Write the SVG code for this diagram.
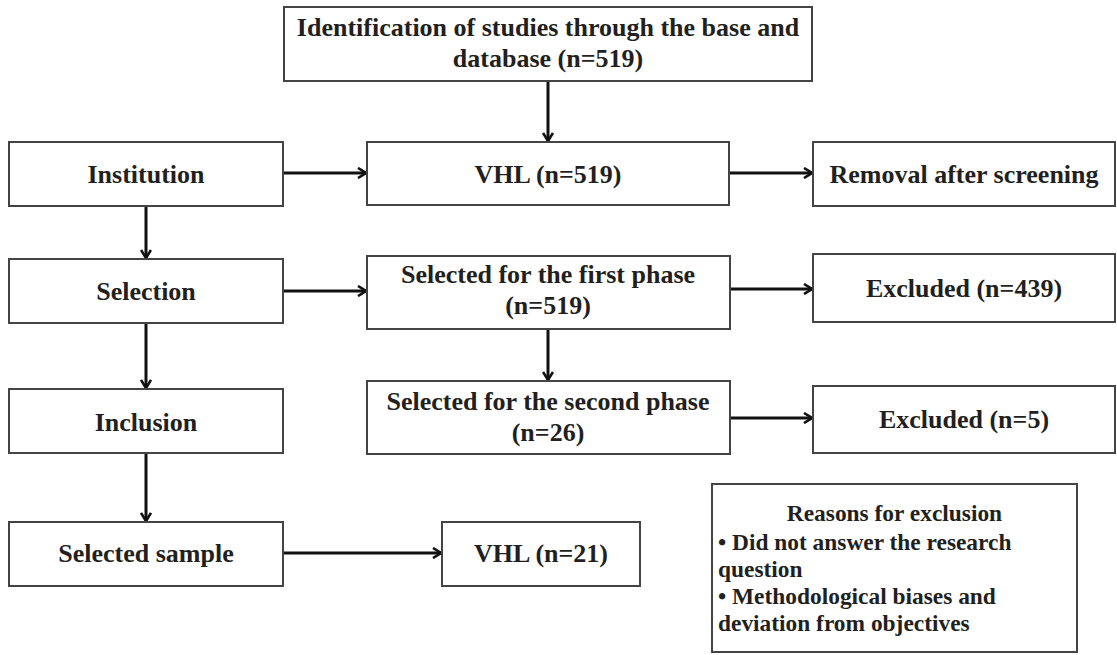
<svg xmlns="http://www.w3.org/2000/svg" width="1117" height="655" viewBox="0 0 1117 655">
<defs>
<marker id="ah" viewBox="0 0 10 12" refX="9" refY="6" markerWidth="10" markerHeight="12" markerUnits="userSpaceOnUse" orient="auto">
<path d="M1,1 L9,6 L1,11" fill="none" stroke="#111" stroke-width="2.6" stroke-linejoin="miter"/>
</marker>
<style>
.box{fill:#fff;stroke:#444;stroke-width:2}
.t{font-family:"Liberation Serif","Times New Roman",serif;font-weight:bold;font-size:26px;fill:#231f20;text-anchor:middle}
.s{font-family:"Liberation Serif","Times New Roman",serif;font-weight:bold;font-size:23.4px;fill:#231f20}
.c{fill:none;stroke:#111;stroke-width:3;marker-end:url(#ah)}
</style>
</defs>
<rect width="1117" height="655" fill="#fff"/>
<g id="connectors">
<line class="c" x1="548" y1="81" x2="548" y2="141"/>
<line class="c" x1="283" y1="173" x2="366" y2="173"/>
<line class="c" x1="729" y1="173" x2="812" y2="173"/>
<line class="c" x1="146" y1="206" x2="146" y2="258"/>
<line class="c" x1="283" y1="291" x2="366" y2="291"/>
<line class="c" x1="730" y1="289" x2="812" y2="289"/>
<line class="c" x1="548" y1="329" x2="548" y2="380"/>
<line class="c" x1="146" y1="323" x2="146" y2="388"/>
<line class="c" x1="730" y1="418" x2="812" y2="418"/>
<line class="c" x1="146" y1="453" x2="146" y2="521"/>
<line class="c" x1="283" y1="553" x2="441" y2="553"/>
</g>
<g id="identification">
<rect class="box" x="284" y="7" width="528" height="74"/>
<text class="t" x="548" y="36">Identification of studies through the base and</text>
<text class="t" x="548" y="67">database (n=519)</text>
</g>
<g id="institution">
<rect class="box" x="9" y="142" width="274" height="64"/>
<text class="t" x="146" y="183">Institution</text>
</g>
<g id="vhl519">
<rect class="box" x="367" y="142" width="362" height="63"/>
<text class="t" x="548" y="183">VHL (n=519)</text>
</g>
<g id="removal">
<rect class="box" x="813" y="142" width="302" height="64"/>
<text class="t" x="964" y="183">Removal after screening</text>
</g>
<g id="selection">
<rect class="box" x="9" y="259" width="274" height="64"/>
<text class="t" x="146" y="300">Selection</text>
</g>
<g id="first-phase">
<rect class="box" x="367" y="256" width="363" height="73"/>
<text class="t" x="548" y="283">Selected for the first phase</text>
<text class="t" x="548" y="314">(n=519)</text>
</g>
<g id="excluded439">
<rect class="box" x="813" y="254" width="302" height="68"/>
<text class="t" x="964" y="297">Excluded (n=439)</text>
</g>
<g id="inclusion">
<rect class="box" x="9" y="389" width="274" height="64"/>
<text class="t" x="146" y="431">Inclusion</text>
</g>
<g id="second-phase">
<rect class="box" x="367" y="381" width="363" height="73"/>
<text class="t" x="548" y="410">Selected for the second phase</text>
<text class="t" x="548" y="441">(n=26)</text>
</g>
<g id="excluded5">
<rect class="box" x="813" y="386" width="302" height="67"/>
<text class="t" x="964" y="428">Excluded (n=5)</text>
</g>
<g id="selected-sample">
<rect class="box" x="9" y="522" width="274" height="64"/>
<text class="t" x="146" y="562">Selected sample</text>
</g>
<g id="vhl21">
<rect class="box" x="442" y="522" width="198" height="64"/>
<text class="t" x="541" y="562">VHL (n=21)</text>
</g>
<g id="reasons">
<rect class="box" x="712" y="484" width="365" height="168"/>
<text class="s" x="894.5" y="521" text-anchor="middle">Reasons for exclusion</text>
<text class="s" x="718" y="550">• Did not answer the research</text>
<text class="s" x="718" y="577">question</text>
<text class="s" x="718" y="604">• Methodological biases and</text>
<text class="s" x="718" y="631">deviation from objectives</text>
</g>
</svg>
